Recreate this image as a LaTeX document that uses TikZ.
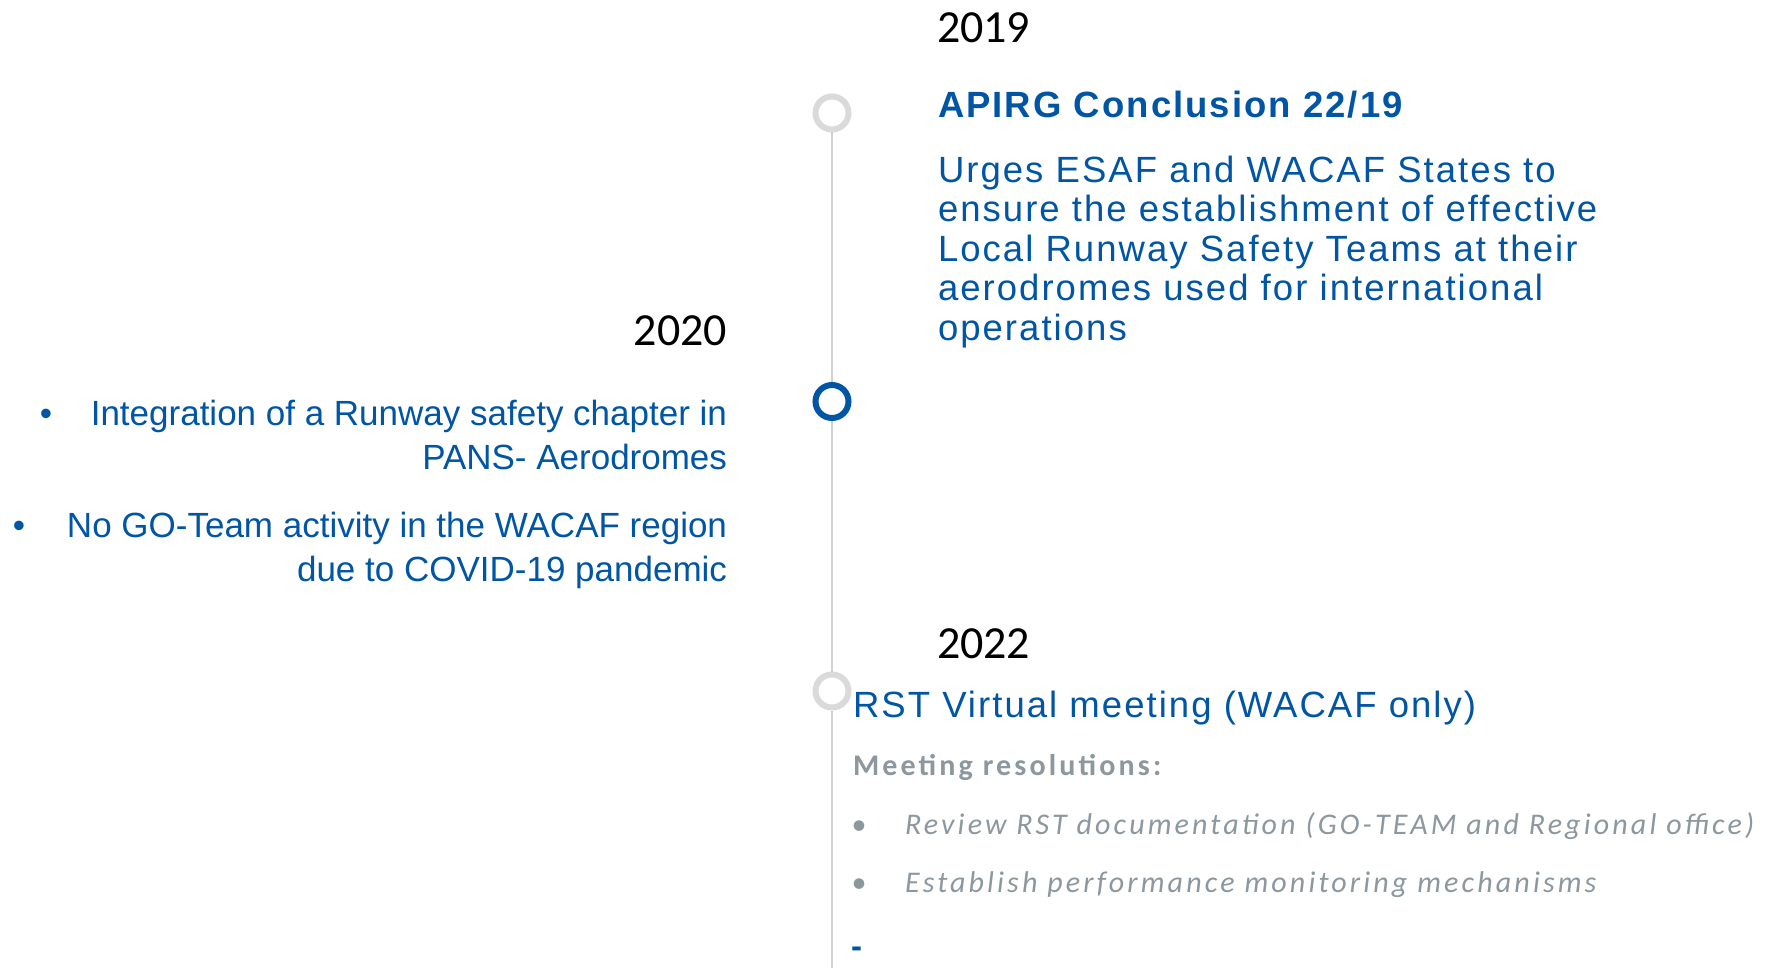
\documentclass[tikz,border=0pt]{standalone}
\usepackage{fontspec}
\setmainfont{Liberation Sans}
\newfontfamily\yearfont{Carlito}
\newfontfamily\trackedsans[LetterSpace=5.6]{Liberation Sans}
\newfontfamily\trackedcal[LetterSpace=10.5]{Carlito}
\definecolor{icaoblue}{HTML}{0055A5}
\definecolor{notegray}{HTML}{8C979E}
\definecolor{ringgray}{HTML}{DADADA}
\definecolor{spinegray}{HTML}{D0D0D4}

\begin{document}
\begin{tikzpicture}[x=1pt,y=-1pt,
  every node/.style={inner sep=0pt, outer sep=0pt},
  ring/.style={circle, minimum size=33pt, line width=6pt, draw=ringgray, fill=white, outer sep=3pt},
  ringnow/.style={ring, draw=icaoblue},
  spine/.style={draw=spinegray, line width=2.5pt},
  year/.style={font=\yearfont\fontsize{46}{50}\selectfont, text=black},
  headline/.style={font=\trackedsans\bfseries\fontsize{36.5}{40}\selectfont, text=icaoblue, anchor=base west},
  bodyline/.style={font=\trackedsans\fontsize{36.5}{40}\selectfont, text=icaoblue, anchor=base west},
  leftline/.style={font=\fontsize{35}{44}\selectfont, text=icaoblue, anchor=base east},
  leftbullet/.style={font=\fontsize{35}{44}\selectfont, text=icaoblue, anchor=base},
  noteline/.style={font=\trackedcal\fontsize{30}{36}\selectfont, text=notegray, anchor=base west},
  notebold/.style={noteline, font=\trackedcal\bfseries\fontsize{30}{36}\selectfont},
  noteitalic/.style={noteline, font=\trackedcal\itshape\fontsize{30}{36}\selectfont},
  notebullet/.style={font=\trackedcal\fontsize{30}{36}\selectfont, text=notegray, anchor=base}
]
\useasboundingbox (0,0) rectangle (1773,968);
\fill[white] (0,0) rectangle (1773,968);

% timeline markers
\node[ring]    (r2019) at (832,113)   {};
\node[ringnow] (r2020) at (832,401.5) {};
\node[ring]    (r2022) at (832,691)   {};
\coordinate (spineend) at (832,968);
\draw[spine] (r2019) -- (r2020);
\draw[spine] (r2020) -- (r2022);
\draw[spine] (r2022) -- (spineend);

% 2019
\node[year, anchor=base west] (y2019) at (937,43) {2019};
\node[headline] (apirg) at (938,118) {APIRG Conclusion 22/19};
\node[bodyline] (u1) at (938,182.5) {Urges ESAF and WACAF States to};
\node[bodyline] (u2) at (938,222)   {ensure the establishment of effective};
\node[bodyline] (u3) at (938,261.5) {Local Runway Safety Teams at their};
\node[bodyline] (u4) at (938,301)   {aerodromes used for international};
\node[bodyline] (u5) at (938,340.5) {operations};

% 2020
\node[year, anchor=base east] (y2020) at (727,345) {2020};
\node[leftbullet] (b1) at (46,425) {•};
\node[leftline] (i1) at (727,425) {Integration of a Runway safety chapter in};
\node[leftline] (i2) at (727,469) {PANS- Aerodromes};
\node[leftbullet] (b2) at (19,537) {•};
\node[leftline] (n1) at (727,537) {No GO-Team activity in the WACAF region};
\node[leftline] (n2) at (727,581) {due to COVID-19 pandemic};

% 2022
\node[year, anchor=base west] (y2022) at (937,658) {2022};
\node[bodyline] (rst) at (853,717) {RST Virtual meeting (WACAF only)};
\node[notebold] (res) at (853,775) {Meeting resolutions:};
\node[notebullet] (g1) at (859,834) {•};
\node[noteitalic] (rev) at (905,834) {Review RST documentation (GO-TEAM and Regional office)};
\node[notebullet] (g2) at (859,892.5) {•};
\node[noteitalic] (est) at (905,892.5) {Establish performance monitoring mechanisms};
\node[bodyline, font=\bfseries\fontsize{33}{40}\selectfont] (dash) at (851,957) {-};
\end{tikzpicture}
\end{document}
